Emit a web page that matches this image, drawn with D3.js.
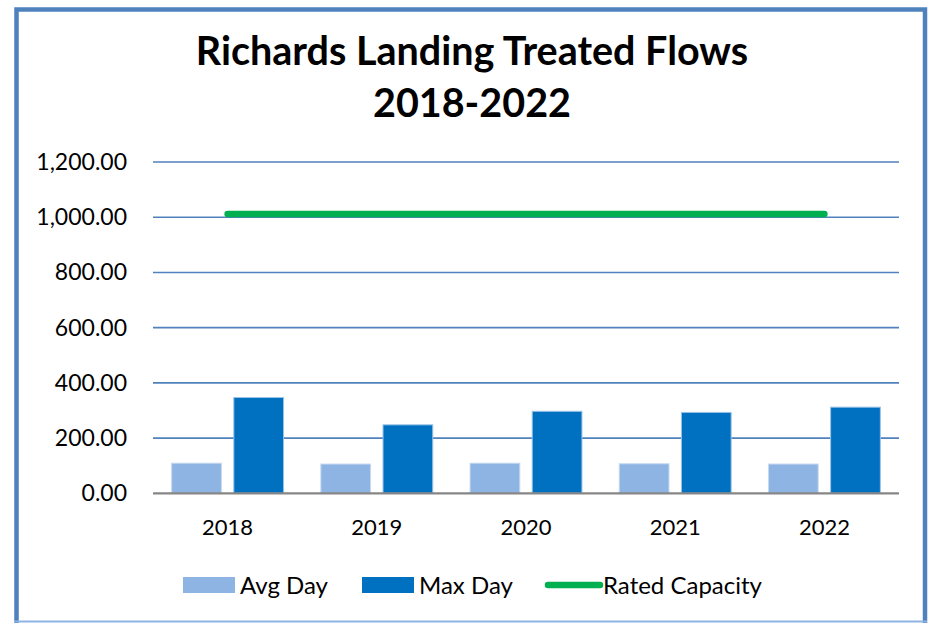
<!DOCTYPE html>
<html>
<head>
<meta charset="utf-8">
<script src="https://cdn.jsdelivr.net/npm/d3@7"></script>
<style>
  body { margin:0; background:#fff; }
  svg text { font-family: Lato, "Open Sans", sans-serif; fill:#000; }
</style>
</head>
<body>
<svg id="chart"></svg>
<script>
// chart values
var years = ["2018", "2019", "2020", "2021", "2022"];
var avgDay = [109, 106, 109, 107, 106];
var maxDay = [347, 248, 297, 293, 312];
var ratedCapacity = [1012, 1012, 1012, 1012, 1012];
var yTicks = [0, 200, 400, 600, 800, 1000, 1200];
var seriesNames = ["Avg Day", "Max Day", "Rated Capacity"];

var screen = {width:928, height:623};
var margins = {top:162, bottom:130, left:153, right:29};

var svg = d3.select("#chart")
    .attr("width", screen.width)
    .attr("height", screen.height);

// frame
svg.append("rect")
    .attr("x", 16.5).attr("y", 9.5)
    .attr("width", 908.5).attr("height", 640)
    .style("fill", "none")
    .style("stroke", "#4f81bd")
    .style("stroke-width", 4.5);
svg.append("line")
    .attr("x1", 14).attr("x2", 927)
    .attr("y1", 621.5).attr("y2", 621.5)
    .style("stroke", "#8eb4e3")
    .style("stroke-width", 2);

var xScale = d3.scaleBand()
    .domain(years)
    .range([margins.left, screen.width - margins.right]);

var xInner = d3.scaleBand()
    .domain(["avg", "max"])
    .range([0, xScale.bandwidth()])
    .paddingInner(0.2)
    .paddingOuter(0.3);

var yScale = d3.scaleLinear()
    .domain([0, 1200])
    .range([493.3, 162]);

// gridlines
svg.append("g")
    .selectAll("line")
    .data(yTicks.filter(function(d){ return d > 0; }))
    .enter()
    .append("line")
    .attr("x1", margins.left)
    .attr("x2", screen.width - margins.right)
    .attr("y1", function(d){ return yScale(d); })
    .attr("y2", function(d){ return yScale(d); })
    .style("stroke", "#4f81bd")
    .style("stroke-width", 1.6);

// y labels
svg.append("g")
    .selectAll("text")
    .data(yTicks)
    .enter()
    .append("text")
    .attr("x", 127)
    .attr("y", function(d){ return yScale(d) + 8; })
    .attr("text-anchor", "end")
    .style("font-size", "23px")
    .text(function(d){ return d3.format(",.2f")(d); });

// bars
var rows = years.map(function(y, i){ return {year:y, avg:avgDay[i], max:maxDay[i]}; });

svg.append("g")
    .selectAll("rect")
    .data(rows)
    .enter()
    .append("rect")
    .attr("x", function(d){ return xScale(d.year) + xInner("avg"); })
    .attr("y", function(d){ return yScale(d.avg); })
    .attr("width", xInner.bandwidth())
    .attr("height", function(d){ return yScale(0) - yScale(d.avg); })
    .style("fill", "#8eb4e3")
    .style("stroke", "#c6d9f1")
    .style("stroke-width", 1);

svg.append("g")
    .selectAll("rect")
    .data(rows)
    .enter()
    .append("rect")
    .attr("x", function(d){ return xScale(d.year) + xInner("max"); })
    .attr("y", function(d){ return yScale(d.max); })
    .attr("width", xInner.bandwidth())
    .attr("height", function(d){ return yScale(0) - yScale(d.max); })
    .style("fill", "#0070c0")
    .style("stroke", "#9cc3e6")
    .style("stroke-width", 1);

// x axis line
svg.append("line")
    .attr("x1", margins.left)
    .attr("x2", screen.width - margins.right)
    .attr("y1", yScale(0))
    .attr("y2", yScale(0))
    .style("stroke", "#868686")
    .style("stroke-width", 2.2);

// x labels
svg.append("g")
    .selectAll("text")
    .data(years)
    .enter()
    .append("text")
    .attr("x", function(d){ return xScale(d) + xScale.bandwidth()/2; })
    .attr("y", 535)
    .attr("text-anchor", "middle")
    .style("font-size", "22px")
    .text(function(d){ return d; });

// rated capacity line
var capLine = d3.line()
    .x(function(d, i){ return xScale(years[i]) + xScale.bandwidth()/2; })
    .y(function(d){ return yScale(d); });

svg.append("path")
    .datum(ratedCapacity)
    .attr("d", capLine)
    .style("fill", "none")
    .style("stroke", "#00b050")
    .style("stroke-width", 6.5)
    .style("stroke-linecap", "round");

// title
svg.append("text")
    .attr("x", 472).attr("y", 65)
    .attr("text-anchor", "middle")
    .style("font-size", "39.5px")
    .style("font-weight", "bold")
    .text("Richards Landing Treated Flows");
svg.append("text")
    .attr("x", 472).attr("y", 117)
    .attr("text-anchor", "middle")
    .style("font-size", "39.5px")
    .style("font-weight", "bold")
    .text("2018-2022");

// legend
var legend = svg.append("g");
legend.append("rect")
    .attr("x", 183).attr("y", 577).attr("width", 52).attr("height", 16)
    .style("fill", "#8eb4e3");
legend.append("text")
    .attr("x", 240).attr("y", 594)
    .style("font-size", "24px")
    .text(seriesNames[0]);
legend.append("rect")
    .attr("x", 362).attr("y", 577).attr("width", 52).attr("height", 16)
    .style("fill", "#0070c0");
legend.append("text")
    .attr("x", 419).attr("y", 594)
    .style("font-size", "24px")
    .text(seriesNames[1]);
legend.append("line")
    .attr("x1", 548).attr("x2", 600)
    .attr("y1", 585).attr("y2", 585)
    .style("stroke", "#00b050")
    .style("stroke-width", 6.5)
    .style("stroke-linecap", "round");
legend.append("text")
    .attr("x", 603).attr("y", 594)
    .style("font-size", "24px")
    .text(seriesNames[2]);
</script>
</body>
</html>
